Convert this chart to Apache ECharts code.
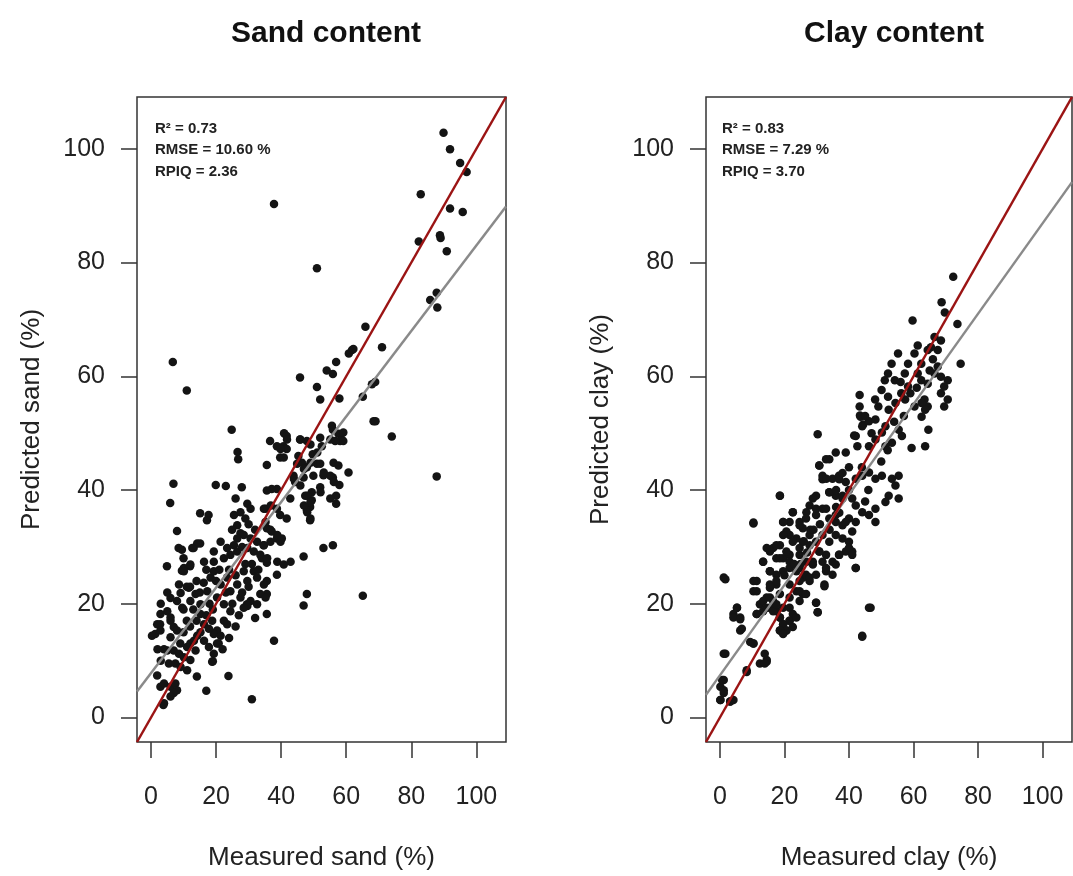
<!DOCTYPE html>
<html>
<head>
<meta charset="utf-8">
<script src="https://cdn.jsdelivr.net/npm/echarts@6/dist/echarts.min.js"></script>
<style>
html,body{margin:0;padding:0;background:#fff;}
#chart{width:1073px;height:876px;}
</style>
</head>
<body>
<div id="chart"></div>
<script>
// ---- tick labels & axis extent ----
const axisTicks = [0, 20, 40, 60, 80, 100];
const axisMin = -4.3;
const axisMax = 109.1;

// ---- statistics text ----
const sandStats = ['R² = 0.73', 'RMSE = 10.60 %', 'RPIQ = 2.36'];
const clayStats = ['R² = 0.83', 'RMSE = 7.29 %', 'RPIQ = 3.70'];

// ---- fitted regression lines [intercept, slope] ----
const sandFit = [7.8, 0.752];
const clayFit = [7.4, 0.795];

// ---- Sand: [measured, predicted] ----
const sandPoints = [
[89.9,102.8],[91.9,99.9],[95.0,97.5],[97.0,95.9],[82.9,92.0],[37.8,90.3],[91.9,89.5],[95.8,88.9],[82.3,83.7],[88.8,84.8],
[89.0,84.3],[90.9,82.0],[51.0,79.0],[87.8,74.7],[85.8,73.4],[88.0,72.1],[65.9,68.7],[71.0,65.1],[61.8,64.6],[60.8,64.0],
[56.9,62.5],[6.7,62.5],[54.0,61.0],[55.9,60.4],[45.8,59.8],[51.0,58.1],[11.0,57.5],[52.0,55.9],[57.9,56.1],[65.1,56.4],
[68.9,59.0],[67.9,58.6],[62.2,64.8],
[68.4,52.1],[69.0,52.1],[74.0,49.4],[87.8,42.4],[24.8,50.6],[26.6,46.7],[26.8,45.4],[40.9,50.0],[41.7,49.5],[36.6,48.6],
[38.7,47.7],[40.7,47.7],[41.7,47.2],[45.8,48.9],[39.7,45.7],[35.6,44.4],[49.7,46.3],[52.0,49.2],[52.5,47.7],[55.6,51.3],
[55.9,50.6],[57.6,49.9],[58.6,48.9],[60.7,43.1],[56.1,44.8],[57.6,44.3],[51.0,44.6],[52.0,44.6],[53.0,42.6],[55.9,42.2],
[57.9,40.9],[49.9,42.5],[46.9,42.2],[52.0,40.5],[49.4,39.6],[47.4,39.0],[56.9,39.0],[56.9,37.6],[49.4,38.2],[48.9,37.0],
[47.9,36.4],[48.9,34.7],[45.3,46.0],[46.4,44.8],[47.9,44.0],[43.8,42.5],[44.3,41.4],[42.8,38.5],[41.7,35.0],[38.7,40.2],
[37.1,40.2],[35.6,39.9],[35.2,36.7],[36.8,37.3],[38.7,36.7],[39.7,35.6],[35.6,33.3],[37.1,32.7],[38.7,31.5],[40.2,31.5],
[34.6,30.3],[34.1,28.0],[35.6,27.2],[53.0,29.8],[55.9,30.3],[46.9,28.3],[38.7,25.1],[47.9,21.7],[46.9,19.7],[65.1,21.4],
[35.6,24.0],[35.6,21.7],[35.6,18.2],[32.0,17.5],[29.5,19.9],[37.8,13.5],[31.0,3.2],[23.8,7.3],[17.0,4.7],[19.0,9.9],
[14.1,7.2],[3.8,2.2],[6.9,41.1],[5.9,37.7],[19.9,40.9],[23.0,40.7],[27.9,40.5],[8.0,32.8],[8.5,29.8],[9.5,29.5],
[13.1,29.8],[15.1,30.6],[15.1,35.9],[17.7,35.6],[17.2,34.7],[4.9,26.6],[12.0,26.6],[9.5,25.8],[1.3,14.7],[0.3,14.4],
[2.8,16.4],[41.8,48.9],[39.8,47.2],[40.8,45.7],[45.9,48.9],[49.0,48.0],[51.1,46.6],[55.1,48.9],[44.9,44.6],[47.0,43.7],
[49.0,44.8],[53.1,43.1],[55.1,42.5],[56.2,41.4],[43.9,42.0],[45.9,40.8],[48.0,39.0],[49.0,37.9],[52.1,39.6],[47.0,37.3],
[48.0,36.1],[49.0,35.0],[55.1,38.5],[59.1,50.1],[58.1,48.6],[56.6,48.6],[59.1,48.6],[47.9,48.6],
[26.0,38.5],[29.6,37.6],[30.6,36.7],[25.5,35.6],[27.5,36.1],[29.0,35.0],[26.5,33.8],[24.9,33.0],[27.5,32.4],[34.7,36.7],
[35.2,34.4],[36.7,33.0],[38.8,32.1],[39.8,30.9],[36.7,30.9],[34.7,30.3],[32.6,30.9],[30.6,31.5],[28.5,32.1],[26.5,31.5],
[25.5,30.3],[23.4,29.8],[21.4,30.9],[19.3,29.2],[22.4,28.0],[24.4,28.6],[26.5,29.2],[29.6,29.8],[31.6,29.2],[33.6,28.6],
[35.7,28.0],[14.2,30.6],[12.7,29.8],[19.3,27.4],[16.3,27.4],[12.1,26.9],[38.8,27.4],[40.8,26.9],[42.9,27.4],[10.1,26.3],
[10.1,25.7],[8.6,23.4],[9.1,21.9],[8.0,20.5],[9.6,19.3],[11.6,22.8],[12.1,20.5],[13.7,21.7],[15.2,19.9],[16.2,23.7],
[17.3,22.2],[18.3,24.6],[19.3,25.7],[21.4,23.4],[20.3,21.1],[22.4,19.9],[23.4,24.6],[24.4,22.2],[26.5,23.4],[27.5,21.1],
[28.5,25.7],[29.6,24.0],[30.6,20.5],[31.6,25.7],[32.6,24.6],[33.6,21.7],[34.7,23.4],[35.2,21.1],[32.6,19.9],[29.6,19.6],
[28.5,19.3],[24.4,18.7],[23.4,16.4],[22.4,17.0],[20.3,15.3],[20.8,13.0],[19.3,14.7],[18.8,9.8],
[1.9,16.4],[2.9,15.3],[6.0,17.0],[7.0,15.9],[8.0,15.3],[6.0,14.1],[5.0,11.8],[7.0,11.8],[8.6,11.2],[5.5,9.5],
[7.5,9.5],[9.1,8.9],[10.1,10.6],[11.1,12.4],[12.1,13.0],[13.2,13.5],[14.2,14.4],[15.2,15.0],[1.9,7.4],[2.9,5.4],
[4.0,6.0],[6.0,5.4],[7.5,6.0],[8.0,4.8],[7.0,4.3],[4.0,2.5],[6.0,3.7],[13.7,11.8],[12.1,10.1],[11.1,8.3],
[16.3,13.5],[17.8,12.4],[19.3,11.2],[20.3,13.0],[21.4,14.4],[18.8,17.0],[15.2,18.2],[16.3,16.4],[17.8,15.6],[5.0,18.7],
[6.0,17.6],[2.9,18.2],
[22.0,12.0],[24.0,14.0],[26.0,16.0],[25.0,20.0],[27.0,18.0],[28.0,22.0],[30.0,23.0],[31.0,27.0],[33.0,26.0],[21.0,26.0],
[18.0,20.0],[17.0,18.0],[14.0,17.0],[13.0,19.0],[11.0,17.0],[10.0,15.0],[9.0,13.0],[12.0,16.0],[3.0,10.0],[4.0,12.0],
[2.0,12.0],[10.0,19.0],[11.0,23.0],[14.0,24.0],[15.0,22.0],[19.0,19.0],[23.0,22.0],[26.0,25.0],[29.0,27.0],[32.0,33.0],
[30.0,34.0],[28.0,30.0],[24.0,26.0],[20.0,24.0],[17.0,26.0],[12.0,23.0],[6.0,21.0],[5.0,22.0],[3.0,20.0],[10.0,28.0]
];

// ---- Clay: [measured, predicted] ----
const clayPoints = [
[72.3,77.5],[68.7,73.0],[69.7,71.2],[59.7,69.8],[73.6,69.2],[66.5,66.9],[68.5,66.3],[67.5,64.6],[65.4,65.1],[64.4,64.6],
[61.3,65.4],[60.3,64.0],[62.4,62.2],[61.3,60.5],[58.3,62.2],[57.3,60.5],[55.2,64.0],[53.2,62.2],[52.1,60.5],[51.1,59.3],
[54.2,59.3],[50.1,57.6],[52.1,56.4],[56.2,57.0],[58.3,58.2],[62.4,59.3],[64.4,58.7],[68.5,59.9],[70.6,59.3],[69.5,58.2],
[68.5,57.0],[70.6,55.9],[69.5,54.7],[64.4,54.7],[63.4,55.9],[60.3,54.7],[74.6,62.2],[67.5,61.7],[66.5,60.5],[43.3,56.7],
[43.3,54.7],[48.1,55.9],[49.1,54.7],[43.4,53.1],[44.4,51.5],[41.6,49.6],
[43.6,52.9],[44.1,51.2],[46.2,52.1],[48.2,52.4],[51.3,51.2],[50.2,50.1],[52.3,54.1],[54.4,55.3],[57.4,55.9],[62.5,55.3],
[63.6,54.1],[62.5,52.9],[64.6,50.6],[63.6,47.7],[59.4,47.4],[56.4,49.5],[55.4,50.6],[53.3,48.3],[51.3,47.7],[48.2,48.9],
[46.2,47.7],[42.1,49.5],[42.6,47.7],[30.3,49.8],[39.0,46.6],[33.9,45.4],[30.8,44.3],[31.8,42.5],[34.9,42.0],[36.9,42.5],
[39.0,41.4],[42.1,42.0],[44.1,42.5],[46.2,43.1],[48.2,42.0],[50.2,42.5],[53.3,42.0],[55.4,42.5],[54.4,40.8],[52.3,39.0],
[55.4,38.5],[51.3,37.9],[48.2,36.7],[46.2,35.6],[44.1,36.1],[42.1,37.3],[41.0,38.5],[38.0,38.5],[35.9,39.0],[33.9,39.6],
[29.8,39.0],[27.8,37.3],[26.8,36.1],[29.8,35.6],[31.8,36.7],[33.9,35.0],[35.9,34.4],[38.0,33.8],[40.0,35.0],[42.1,34.4],
[48.2,34.4],[22.6,36.1],[21.6,34.4],[24.7,34.4],[18.6,39.0],[10.4,34.1],[19.6,34.4],[25.7,33.3],[27.8,32.1],[29.8,30.9],
[31.8,32.1],[33.9,30.9],[35.9,32.1],[38.0,31.5],[40.0,30.9],[41.0,29.2],[39.0,29.2],[36.9,28.6],[34.9,27.4],[32.9,28.6],
[30.8,29.2],[27.8,30.3],[25.7,30.9],[23.7,31.5],[21.6,32.1],[20.6,32.7],[18.6,30.3],[16.5,29.8],[15.5,29.2],[17.5,28.0],
[19.6,28.0],[21.6,28.6],[24.7,28.6],[26.8,27.4],[28.8,26.9],[31.8,27.4],[35.9,26.9],[42.1,26.3],[32.9,25.7],[29.8,25.1],
[27.8,24.0],[25.7,24.6],[23.7,25.7],[21.6,26.3],[19.6,25.7],[17.5,25.1],[15.5,25.7],[13.4,27.4],[11.4,24.0],[10.4,22.2],
[15.5,22.8],[17.5,23.4],[21.6,23.4],[23.7,22.2],[25.7,21.7],[24.7,20.5],[21.6,21.1],[18.6,21.7],[16.5,20.5],[14.5,21.1],
[12.4,19.9],[13.4,18.7],[11.4,18.2],[15.5,19.3],[17.5,18.7],[19.6,19.3],[21.6,19.3],[18.6,17.6],[19.6,16.4],[21.6,17.0],
[20.6,15.3],[18.6,15.3],[22.6,18.2],[29.8,20.2],[30.3,18.5],[32.4,23.4],[46.7,19.3],[44.1,14.4],[5.3,19.3],[6.3,17.6],
[4.2,18.2],[1.2,24.6],[6.3,15.3],[10.4,13.0],[14.5,10.1],[13.9,11.2],[12.4,9.5],[8.3,8.3],[1.2,11.2],[1.2,6.6],
[0.15,5.4],[1.2,4.3],[0.15,3.1],[3.2,2.8],
[18.6,39.0],[10.4,34.3],[19.6,34.4],[22.6,36.1],[24.7,33.8],[26.7,35.0],[28.8,38.5],[29.8,36.7],[30.8,44.3],[32.9,45.4],
[35.9,46.6],[31.8,41.9],[37.0,41.9],[33.9,39.6],[38.0,39.0],[32.9,36.7],[35.9,35.6],[39.0,34.4],[41.0,32.7],
[14.5,29.8],[13.4,27.4],[15.5,25.7],[17.5,30.3],[19.6,32.1],[20.6,29.2],[22.6,30.9],[24.7,29.8],[18.6,28.0],[21.6,27.4],
[24.7,26.3],[26.7,25.1],[28.8,27.4],[30.8,29.2],[32.9,26.3],[34.9,25.1],[37.0,28.6],[40.0,29.8],[42.1,26.3],[41.0,28.6],
[1.7,24.3],[10.4,24.0],[15.5,23.4],[17.5,24.0],[11.4,22.2],[5.3,19.3],[4.2,17.6],[6.3,17.3],[6.8,15.6],[11.4,18.2],
[13.4,20.5],[14.5,19.3],[15.5,21.1],[16.5,18.7],[17.5,19.9],[18.6,17.6],[19.6,16.4],[20.6,15.3],[21.6,17.0],[22.6,15.9],
[23.7,17.6],[18.6,15.3],[19.6,14.7],[24.7,22.2],[26.7,21.7],[29.8,20.2],[30.3,18.5],[32.4,23.1],[24.7,24.0],[27.8,24.6],
[9.4,13.3],[10.4,13.0],[1.7,11.2],[14.5,9.8],[13.9,9.5],[8.3,8.0],[0.7,6.6],[1.2,4.8],[0.15,3.1],[3.2,2.8],[4.2,3.1],
[44.1,14.2],[46.2,19.3],
[36.0,37.0],[40.0,40.0],[44.0,44.0],[46.0,40.0],[38.0,43.0],[27.0,29.0],[25.0,27.0],[23.0,27.0],[28.0,33.0],[31.0,34.0],
[34.0,33.0],[37.0,36.0],[45.0,38.0],[50.0,45.0],[52.0,47.0],[54.0,52.0],[57.0,53.0],[59.0,57.0],[61.0,58.0],[65.0,61.0],
[66.0,63.0],[56.0,59.0],[47.0,50.0],[45.0,53.0],[40.0,44.0],[36.0,40.0],[33.0,42.0],[29.0,33.0],[26.0,31.0],[20.0,25.0]
];

function fitLine(fit) {
  return [[axisMin, fit[0] + fit[1] * axisMin], [axisMax, fit[0] + fit[1] * axisMax]];
}
const oneToOne = [[axisMin, axisMin], [axisMax, axisMax]];

const FONT = 'Liberation Sans, Arial, Helvetica, sans-serif';
const gridsPx = [
  {left: 137, top: 97, width: 369, height: 653},
  {left: 706, top: 97, width: 366, height: 653}
];

function xAx(i, name) {
  return {
    type: 'value', gridIndex: i, min: axisMin, max: axisMax,
    axisLine: {show: false, onZero: false},
    axisTick: {show: true, length: 16, customValues: axisTicks, lineStyle: {color: '#333', width: 1.5}},
    axisLabel: {customValues: axisTicks, fontSize: 25, color: '#222', margin: 43, fontFamily: FONT},
    splitLine: {show: false},
    name: name, nameLocation: 'middle', nameGap: 103,
    nameTextStyle: {fontSize: 26, color: '#222', fontFamily: FONT}
  };
}
function yAx(i, name) {
  return {
    type: 'value', gridIndex: i, min: axisMin, max: axisMax,
    axisLine: {show: false, onZero: false},
    axisTick: {show: true, length: 16, customValues: axisTicks, lineStyle: {color: '#333', width: 1.5}},
    axisLabel: {customValues: axisTicks, fontSize: 25, color: '#222', margin: 32, fontFamily: FONT},
    splitLine: {show: false},
    name: name, nameLocation: 'middle', nameGap: 92,
    nameTextStyle: {fontSize: 26, color: '#222', fontFamily: FONT}
  };
}

function statsText(lines, left) {
  return lines.map((t, k) => ({
    type: 'text', left: left, top: 121 + k * 21.5,
    style: {text: t, font: 'bold 15px ' + FONT, fill: '#222'}
  }));
}

const chart = echarts.init(document.getElementById('chart'), null, {renderer: 'canvas'});
chart.setOption({
  animation: false,
  backgroundColor: '#fff',
  title: [
    {text: 'Sand content', left: 321, top: 14, textAlign: 'center',
     textStyle: {fontSize: 30, fontWeight: 'bold', color: '#111', fontFamily: FONT}},
    {text: 'Clay content', left: 889, top: 14, textAlign: 'center',
     textStyle: {fontSize: 30, fontWeight: 'bold', color: '#111', fontFamily: FONT}}
  ],
  grid: gridsPx.map(g => Object.assign({show: true, borderColor: '#333', borderWidth: 1.5, backgroundColor: 'transparent'}, g)),
  xAxis: [xAx(0, 'Measured sand (%)'), xAx(1, 'Measured clay (%)')],
  yAxis: [yAx(0, 'Predicted sand (%)'), yAx(1, 'Predicted clay (%)')],
  graphic: statsText(sandStats, 155).concat(statsText(clayStats, 722)),
  series: [
    {type: 'scatter', xAxisIndex: 0, yAxisIndex: 0, data: sandPoints, symbolSize: 8.5,
     itemStyle: {color: '#141414', opacity: 1}, z: 2},
    {type: 'scatter', xAxisIndex: 1, yAxisIndex: 1, data: clayPoints, symbolSize: 8.5,
     itemStyle: {color: '#141414', opacity: 1}, z: 2},
    {type: 'line', xAxisIndex: 0, yAxisIndex: 0, data: fitLine(sandFit), showSymbol: false,
     lineStyle: {color: '#8a8a8a', width: 2.5}, z: 3},
    {type: 'line', xAxisIndex: 1, yAxisIndex: 1, data: fitLine(clayFit), showSymbol: false,
     lineStyle: {color: '#8a8a8a', width: 2.5}, z: 3},
    {type: 'line', xAxisIndex: 0, yAxisIndex: 0, data: oneToOne, showSymbol: false,
     lineStyle: {color: '#9b1414', width: 2.5}, z: 4},
    {type: 'line', xAxisIndex: 1, yAxisIndex: 1, data: oneToOne, showSymbol: false,
     lineStyle: {color: '#9b1414', width: 2.5}, z: 4}
  ]
});
</script>
</body>
</html>
